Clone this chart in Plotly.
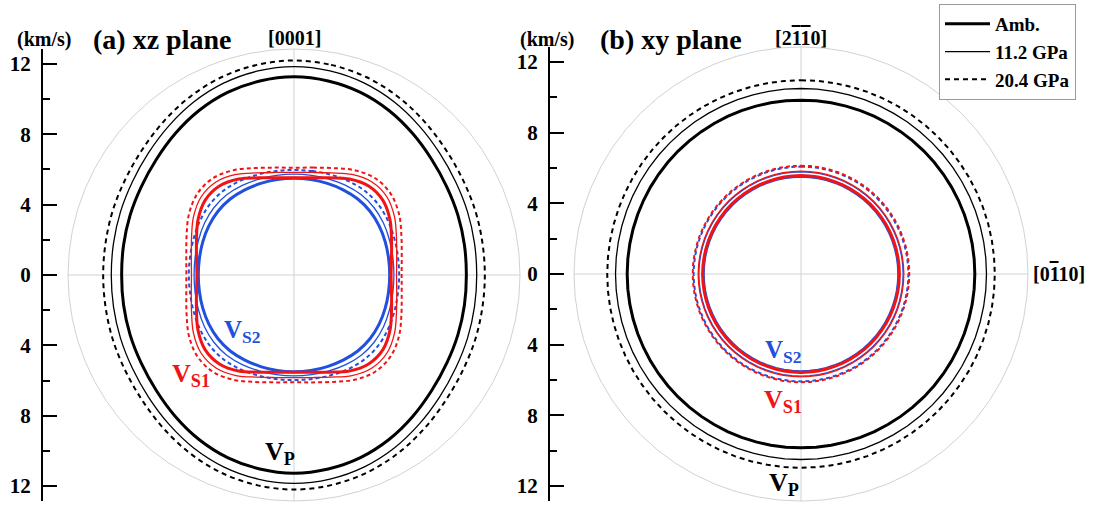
import plotly.graph_objects as go

# ---------------------------------------------------------------
# Phase velocities (km/s). Angles are measured from the vertical
# reference direction of each plane, one quadrant (0-90 deg);
# the other three quadrants follow from the mirror symmetry.
# ---------------------------------------------------------------
angle_q = [0, 10, 20, 30, 40, 50, 60, 70, 80, 90]
pressures = ["Amb.", "11.2 GPa", "20.4 GPa"]

# (a) xz plane, angle from [0001]
xz_vp_amb = [11.27, 11.20, 11.05, 10.80, 10.50, 10.22, 10.03, 9.92, 9.84, 9.80]
xz_vp_112 = [11.85, 11.78, 11.62, 11.37, 11.07, 10.80, 10.61, 10.50, 10.42, 10.39]
xz_vp_204 = [12.20, 12.13, 11.98, 11.74, 11.46, 11.20, 11.03, 10.94, 10.87, 10.85]

xz_vs1_amb = [5.53, 5.62, 5.88, 6.30, 6.60, 6.60, 6.30, 5.90, 5.63, 5.52]
xz_vs1_112 = [5.83, 5.92, 6.18, 6.60, 6.90, 6.90, 6.60, 6.20, 5.93, 5.83]
xz_vs1_204 = [6.10, 6.20, 6.47, 6.88, 7.18, 7.18, 6.90, 6.50, 6.22, 6.12]

xz_vs2_amb = [5.50, 5.51, 5.54, 5.59, 5.64, 5.64, 5.59, 5.52, 5.46, 5.44]
xz_vs2_112 = [5.74, 5.75, 5.80, 5.88, 5.95, 5.95, 5.88, 5.78, 5.71, 5.68]
xz_vs2_204 = [5.97, 6.00, 6.07, 6.17, 6.25, 6.25, 6.17, 6.07, 6.00, 5.98]

# (b) xy plane: isotropic, one radius per pressure
xy_vp = [9.84, 10.50, 10.97]
xy_vs1 = [5.57, 5.82, 6.13]
xy_vs2 = [5.53, 5.78, 6.08]

circle_angles = list(range(0, 361, 5))
r_max = 12.85
axis_ticks = [-12, -8, -4, 0, 4, 8, 12]
axis_minor = [-10, -6, -2, 2, 6, 10]

W, H = 1102, 506
FONT = "Liberation Serif"
RED = "#f01414"
BLUE = "#1f50e0"
GRID = "#d2d2d2"

styles = [
    dict(width=3.0, dash="solid"),
    dict(width=1.3, dash="solid"),
    dict(width=2.0, dash="4px,3px"),
]


def full_loop(q_angles, q_vals):
    """Mirror one quadrant into a closed 0-360 deg loop."""
    rq = list(reversed(q_vals))
    aq = list(reversed(q_angles))
    theta = (list(q_angles)
             + [180 - a for a in aq][1:]
             + [180 + a for a in q_angles][1:]
             + [360 - a for a in aq][1:])
    r = list(q_vals) + rq[1:] + list(q_vals)[1:] + rq[1:]
    return theta, r


def px(x):
    return x / W


def py(y):
    return 1 - y / H


fig = go.Figure()

xz_sets = [
    ("V_S2", BLUE, [xz_vs2_amb, xz_vs2_112, xz_vs2_204]),
    ("V_S1", RED, [xz_vs1_amb, xz_vs1_112, xz_vs1_204]),
    ("V_P", "black", [xz_vp_amb, xz_vp_112, xz_vp_204]),
]
for mode, color, series in xz_sets:
    for i, vals in enumerate(series):
        th, rr = full_loop(angle_q, vals)
        st = styles[i]
        dash = st["dash"]
        if mode == "V_P" and i == 2:
            dash = "5px,4px"
        fig.add_trace(go.Scatterpolar(
            r=rr, theta=th, subplot="polar", mode="lines",
            line=dict(color=color, width=st["width"], dash=dash, shape="spline"),
            name=pressures[i], legendgroup=pressures[i],
            showlegend=(mode == "V_P"), hoverinfo="skip"))

xy_sets = [
    ("V_S2", BLUE, xy_vs2),
    ("V_S1", RED, xy_vs1),
    ("V_P", "black", xy_vp),
]
for mode, color, radii in xy_sets:
    for i, rad in enumerate(radii):
        st = styles[i]
        dash = st["dash"]
        if mode == "V_P" and i == 2:
            dash = "5px,4px"
        fig.add_trace(go.Scatterpolar(
            r=[rad] * len(circle_angles), theta=circle_angles, subplot="polar2",
            mode="lines",
            line=dict(color=color, width=st["width"], dash=dash),
            name=pressures[i], legendgroup=pressures[i],
            showlegend=False, hoverinfo="skip"))

# empty traces so the velocity scales are drawn
fig.add_trace(go.Scatter(x=[], y=[], xaxis="x", yaxis="y", showlegend=False))
fig.add_trace(go.Scatter(x=[], y=[], xaxis="x2", yaxis="y2", showlegend=False))

# panel geometry (pixels)
ca, ra = (294, 275), 226
cb, rb = (801, 274), 227


def polar_layout(c, rad):
    return dict(
        domain=dict(x=[px(c[0] - rad), px(c[0] + rad)],
                    y=[py(c[1] + rad), py(c[1] - rad)]),
        bgcolor="rgba(0,0,0,0)",
        radialaxis=dict(range=[0, r_max], visible=False, showgrid=False),
        angularaxis=dict(rotation=90, direction="clockwise",
                         tickvals=[0, 90, 180, 270], showticklabels=False,
                         ticks="", showgrid=True, gridcolor=GRID, gridwidth=1,
                         showline=True, linecolor=GRID, linewidth=1),
    )


def scale_axis(c, rad):
    return dict(
        domain=[py(c[1] + rad), py(c[1] - rad)],
        range=[-r_max, r_max], showgrid=False, zeroline=False,
        showline=True, linecolor="black", linewidth=2,
        ticks="inside", ticklen=14, tickwidth=2, tickcolor="black",
        tickvals=axis_ticks, ticktext=[str(abs(t)) for t in axis_ticks],
        tickfont=dict(family=FONT, size=21, color="black", weight="bold"),
        ticklabelstandoff=6,
        minor=dict(tickvals=axis_minor, ticks="inside", ticklen=7,
                   tickwidth=2, tickcolor="black"),
        fixedrange=True,
    )


hidden_x = dict(visible=False, range=[0, 1], fixedrange=True)

fig.update_layout(
    width=W, height=H,
    margin=dict(l=0, r=0, t=0, b=0),
    paper_bgcolor="white", plot_bgcolor="rgba(0,0,0,0)",
    polar=polar_layout(ca, ra),
    polar2=polar_layout(cb, rb),
    xaxis=dict(domain=[px(43), px(60)], anchor="y", **hidden_x),
    yaxis=dict(anchor="x", **scale_axis(ca, ra)),
    xaxis2=dict(domain=[px(550), px(567)], anchor="y2", **hidden_x),
    yaxis2=dict(anchor="x2", **scale_axis(cb, rb)),
    legend=dict(x=px(939), y=py(4), xanchor="left", yanchor="top",
                bgcolor="white", bordercolor="#9a9a9a", borderwidth=1,
                font=dict(family=FONT, size=19, color="black", weight="bold"),
                itemwidth=45, tracegroupgap=0),
    showlegend=True,
)


def label(text, x, y, size, color="black", xanchor="left", yanchor="middle"):
    fig.add_annotation(text=text, x=px(x), y=py(y), xref="paper", yref="paper",
                       xanchor=xanchor, yanchor=yanchor, showarrow=False,
                       font=dict(family=FONT, size=size, color=color, weight="bold"))


OV = '<span style="text-decoration:overline">1</span>'

label("(km/s)", 43.5, 40, 20, xanchor="center")
label("(a) xz plane", 91, 39, 28)
label("[0001]", 294, 38, 20, xanchor="center")
label("(km/s)", 547, 40, 20, xanchor="center")
label("(b) xy plane", 598, 39, 28)
label("[2" + OV + OV + "0]", 801, 38, 20, xanchor="center")
label("[0" + OV + "10]", 1031, 274, 20)

label("V<sub>P</sub>", 263, 453, 26)
label("V<sub>S2</sub>", 222, 331, 25, color=BLUE)
label("V<sub>S1</sub>", 170, 375, 26, color=RED)
label("V<sub>S2</sub>", 763, 351, 25, color=BLUE)
label("V<sub>S1</sub>", 762, 401, 26, color=RED)
label("V<sub>P</sub>", 767, 484, 26)

fig.write_html("out.html")
